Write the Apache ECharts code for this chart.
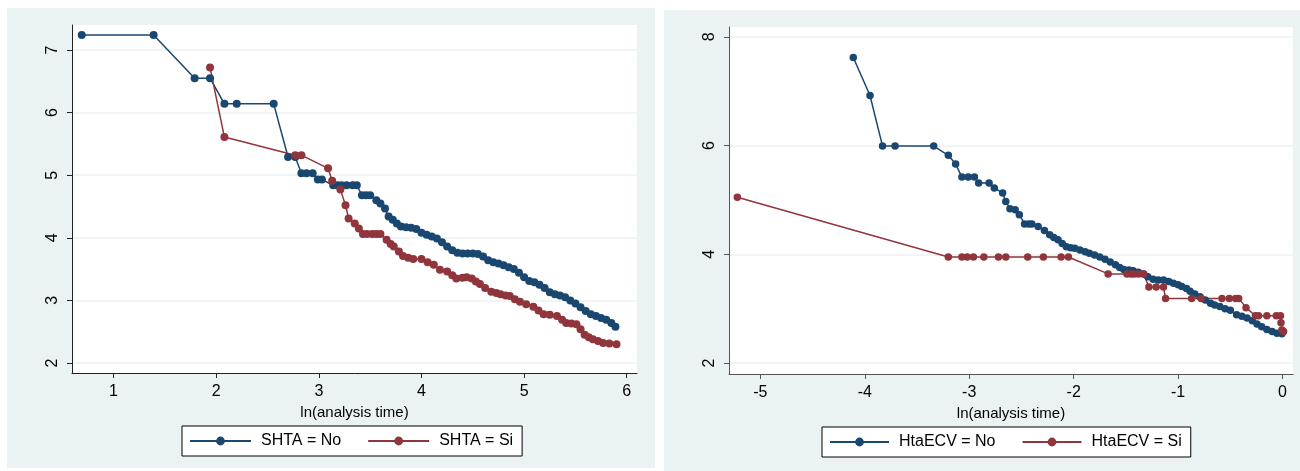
<!DOCTYPE html>
<html>
<head>
<meta charset="utf-8">
<script src="https://cdn.jsdelivr.net/npm/echarts@6/dist/echarts.min.js"></script>
<style>
  body { margin: 0; background: #fff; width: 1300px; height: 471px; position: relative; overflow: hidden; }
  .panel { position: absolute; background: #eaf2f3; }
  #shta { left: 7px; top: 8px; width: 648px; height: 460px; }
  #hta { left: 664px; top: 10px; width: 636px; height: 461px; }
</style>
</head>
<body>
<div id="shta" class="panel"></div>
<div id="hta" class="panel"></div>
<script>
// ln(-ln S) vs ln(analysis time)
const shtaNo = [
  [0.69,7.24],[1.39,7.24],[1.79,6.55],[1.94,6.55],[2.08,6.14],[2.20,6.14],[2.56,6.14],[2.70,5.29],[2.77,5.29],
  [2.83,5.03],[2.88,5.03],[2.94,5.03],[2.99,4.93],[3.03,4.93],[3.14,4.84],[3.18,4.84],[3.22,4.84],[3.27,4.84],
  [3.33,4.84],[3.37,4.84],[3.42,4.68],[3.46,4.68],[3.50,4.68],[3.56,4.60],[3.60,4.55],[3.645,4.47],[3.68,4.34],
  [3.72,4.29],[3.76,4.23],[3.80,4.18],[3.85,4.17],[3.90,4.16],[3.95,4.14],[4.00,4.08],[4.05,4.05],[4.10,4.02],
  [4.15,3.99],[4.20,3.93],[4.25,3.86],[4.30,3.80],[4.35,3.76],[4.40,3.75],[4.45,3.75],[4.50,3.75],[4.55,3.74],
  [4.60,3.70],[4.65,3.64],[4.70,3.61],[4.75,3.59],[4.80,3.56],[4.85,3.53],[4.90,3.50],[4.95,3.44],[5.00,3.37],
  [5.05,3.31],[5.10,3.29],[5.15,3.25],[5.20,3.20],[5.25,3.13],[5.30,3.10],[5.35,3.08],[5.40,3.05],[5.45,3.00],
  [5.50,2.95],[5.55,2.89],[5.60,2.83],[5.65,2.78],[5.70,2.75],[5.75,2.72],[5.80,2.69],[5.85,2.64],[5.89,2.58]
];
const shtaSi = [
  [1.94,6.72],[2.08,5.61],[2.77,5.32],[2.83,5.32],[3.09,5.11],[3.13,4.91],[3.21,4.77],[3.26,4.52],[3.29,4.31],
  [3.35,4.23],[3.39,4.15],[3.43,4.06],[3.47,4.06],[3.52,4.06],[3.56,4.06],[3.60,4.06],[3.66,3.97],[3.70,3.90],
  [3.73,3.86],[3.78,3.78],[3.82,3.71],[3.87,3.68],[3.92,3.66],[4.00,3.66],[4.06,3.61],[4.12,3.57],[4.18,3.49],
  [4.25,3.46],[4.30,3.40],[4.34,3.35],[4.40,3.36],[4.44,3.37],[4.49,3.35],[4.53,3.30],[4.57,3.26],[4.62,3.20],
  [4.68,3.14],[4.73,3.12],[4.77,3.10],[4.82,3.08],[4.86,3.07],[4.91,3.02],[4.96,2.98],[5.02,2.94],[5.09,2.90],
  [5.14,2.84],[5.19,2.78],[5.25,2.77],[5.32,2.75],[5.37,2.69],[5.41,2.64],[5.46,2.63],[5.51,2.62],[5.55,2.54],
  [5.59,2.45],[5.63,2.41],[5.67,2.38],[5.72,2.35],[5.77,2.32],[5.83,2.31],[5.90,2.30]
];
const htaNo = [
  [-4.11,7.62],[-3.95,6.92],[-3.83,5.99],[-3.71,5.99],[-3.34,5.99],[-3.20,5.82],[-3.13,5.66],[-3.07,5.42],
  [-3.01,5.42],[-2.95,5.42],[-2.91,5.31],[-2.81,5.31],[-2.76,5.22],[-2.68,5.13],[-2.65,4.97],[-2.61,4.84],
  [-2.56,4.82],[-2.52,4.73],[-2.47,4.56],[-2.43,4.56],[-2.40,4.56],[-2.34,4.51],[-2.28,4.44],[-2.23,4.36],
  [-2.19,4.31],[-2.15,4.27],[-2.11,4.20],[-2.07,4.14],[-2.03,4.12],[-1.99,4.11],[-1.94,4.08],[-1.89,4.05],
  [-1.85,4.02],[-1.80,3.99],[-1.75,3.95],[-1.70,3.91],[-1.65,3.86],[-1.60,3.81],[-1.56,3.76],[-1.52,3.72],
  [-1.47,3.71],[-1.43,3.70],[-1.38,3.67],[-1.33,3.64],[-1.29,3.59],[-1.24,3.54],[-1.19,3.53],[-1.14,3.53],
  [-1.09,3.50],[-1.045,3.47],[-1.00,3.44],[-0.965,3.41],[-0.92,3.37],[-0.885,3.32],[-0.84,3.27],[-0.79,3.22],
  [-0.74,3.16],[-0.69,3.10],[-0.65,3.07],[-0.60,3.04],[-0.55,3.00],[-0.50,2.97],[-0.44,2.89],[-0.39,2.86],
  [-0.34,2.83],[-0.29,2.78],[-0.245,2.72],[-0.20,2.67],[-0.15,2.62],[-0.10,2.58],[-0.054,2.55],[-0.006,2.54]
];
const htaSi = [
  [-5.22,5.05],[-3.20,3.95],[-3.07,3.95],[-3.02,3.95],[-2.96,3.95],[-2.86,3.95],[-2.72,3.95],[-2.65,3.95],
  [-2.44,3.95],[-2.29,3.95],[-2.12,3.95],[-2.05,3.95],[-1.67,3.64],[-1.49,3.64],[-1.45,3.64],[-1.42,3.64],
  [-1.38,3.64],[-1.33,3.64],[-1.28,3.40],[-1.21,3.40],[-1.14,3.40],[-1.12,3.19],[-0.87,3.19],[-0.78,3.19],
  [-0.58,3.19],[-0.51,3.19],[-0.45,3.19],[-0.42,3.19],[-0.35,3.02],[-0.26,2.87],[-0.23,2.87],[-0.15,2.87],
  [-0.06,2.87],[-0.02,2.87],[-0.015,2.74],[-0.006,2.61],[0.01,2.58]
];

const shtaXTicks = [1, 2, 3, 4, 5, 6];
const shtaYTicks = [2, 3, 4, 5, 6, 7];
const htaXTicks = [-5, -4, -3, -2, -1, 0];
const htaYTicks = [2, 4, 6, 8];

const blue = '#1a476f';
const red = '#90353b';
const font = 'Arial, "Liberation Sans", sans-serif';

function lineSeries(name, data, color, size) {
  return {
    name: name,
    type: 'line',
    data: data,
    symbol: 'circle',
    symbolSize: size,
    showAllSymbol: true,
    color: color,
    itemStyle: { color: color },
    lineStyle: { color: color, width: 1.5 },
    emphasis: { disabled: true }
  };
}

function panelOption(p) {
  return {
    animation: false,
    backgroundColor: 'transparent',
    grid: {
      left: p.grid[0], top: p.grid[1], width: p.grid[2], height: p.grid[3],
      show: true, backgroundColor: '#fff', borderWidth: 0, containLabel: false
    },
    legend: {
      left: p.legend[0], top: p.legend[1],
      backgroundColor: '#fff', borderColor: '#000', borderWidth: 1, borderRadius: 0,
      padding: [7, 9, 7, 7],
      itemWidth: p.legendItemWidth, itemHeight: 11, itemGap: 26,
      textStyle: { fontFamily: font, fontSize: 16, color: '#000', padding: [0, 0, 0, 5] },
      data: p.names
    },
    xAxis: {
      type: 'value',
      min: p.xRange[0], max: p.xRange[1],
      name: 'ln(analysis time)',
      nameLocation: 'middle',
      nameGap: 28,
      nameTextStyle: { fontFamily: font, fontSize: 15, color: '#000' },
      axisLine: { show: true, onZero: false, lineStyle: { color: p.axisColor, width: 1 } },
      axisTick: { show: true, length: 5, customValues: p.xTicks, lineStyle: { color: p.axisColor } },
      axisLabel: { customValues: p.xTicks, margin: 11, fontFamily: font, fontSize: 16, color: '#000' },
      splitLine: { show: false }
    },
    yAxis: {
      type: 'value',
      min: p.yRange[0], max: p.yRange[1],
      axisLine: { show: true, onZero: false, lineStyle: { color: p.axisColor, width: 1 } },
      axisTick: { show: true, length: 5, customValues: p.yTicks, lineStyle: { color: p.axisColor } },
      axisLabel: { customValues: p.yTicks, rotate: 90, margin: 11, fontFamily: font, fontSize: 16, color: '#000' },
      splitLine: { show: true, lineStyle: { color: '#eaf2f3', width: 1.5 } }
    },
    series: [
      lineSeries(p.names[0], p.data[0], blue, p.symbolSize),
      lineSeries(p.names[1], p.data[1], red, p.symbolSize)
    ]
  };
}

var leftChart = echarts.init(document.getElementById('shta'));
leftChart.setOption(panelOption({
  grid: [65, 17, 565, 348],
  legend: [175, 418],
  legendItemWidth: 61,
  xRange: [0.595, 6.1],
  yRange: [1.84, 7.4],
  xTicks: shtaXTicks,
  yTicks: shtaYTicks,
  axisColor: '#222',
  names: ['SHTA = No', 'SHTA = Si'],
  data: [shtaNo, shtaSi],
  symbolSize: 8
}));

var rightChart = echarts.init(document.getElementById('hta'));
rightChart.setOption(panelOption({
  grid: [65, 17, 564, 347],
  legend: [158, 417],
  legendItemWidth: 59,
  xRange: [-5.3, 0.1],
  yRange: [1.8, 8.18],
  xTicks: htaXTicks,
  yTicks: htaYTicks,
  axisColor: '#555',
  names: ['HtaECV = No', 'HtaECV = Si'],
  data: [htaNo, htaSi],
  symbolSize: 7.5
}));
</script>
</body>
</html>
